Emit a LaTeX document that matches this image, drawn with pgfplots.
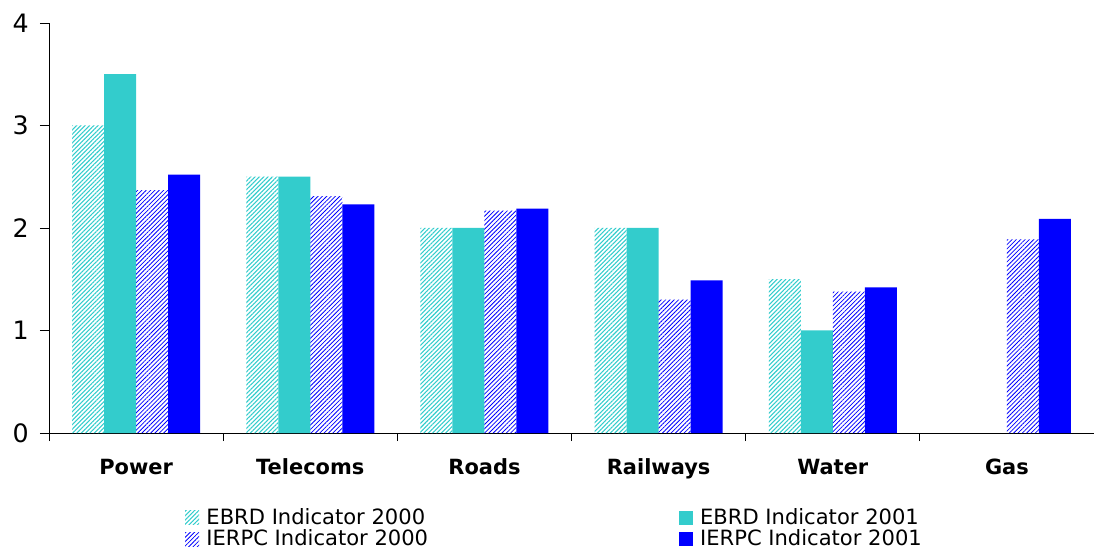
\documentclass[border=0pt]{standalone}
\usepackage{fontspec}
\setmainfont{DejaVu Sans}
\usepackage{pgfplots}
\pgfplotsset{compat=1.18}
\usetikzlibrary{patterns.meta}
\definecolor{ebrd}{RGB}{51,204,204}
\definecolor{ierpc}{RGB}{0,0,255}

\begin{document}
\begin{tikzpicture}
\path[use as bounding box] (0,0) rectangle (820.5pt,411.75pt);
\begin{axis}[
  at={(36.75pt,87pt)}, anchor=south west,
  scale only axis, width=783.75pt, height=307.5pt,
  ybar=0pt, bar width=24pt,
  xmin=-0.5, xmax=5.5, ymin=0, ymax=4,
  axis lines=left, axis line style={-, black, line width=0.7pt},
  tick align=outside,
  ytick={0,1,2,3,4},
  major tick length=6.75pt, minor tick length=6pt,
  xtick={0,...,5},
  xticklabels={Power,Telecoms,Roads,Railways,Water,Gas},
  minor xtick={-0.5,0.5,1.5,2.5,3.5,4.5},
  major x tick style={draw=none},
  minor x tick style={black, line width=0.7pt},
  ytick style={black, line width=0.7pt},
  /pgf/number format/assume math mode=true,
  yticklabel style={font=\fontsize{19}{22}\selectfont, xshift=-5pt},
  xticklabel style={font=\bfseries\fontsize{15.7}{18}\selectfont, anchor=base, yshift=-24pt},
  legend columns=2,
  legend cell align=left,
  legend image code/.code={\fill[#1] (0pt,-4.5pt) rectangle (10.5pt,6pt); \path (15pt,0pt);},
  legend style={at={(axis description cs:0.13,-0.183)}, anchor=north west,
    draw=none, fill=none, inner sep=0pt,
    font=\fontsize{15.8}{16}\selectfont,
    nodes={inner sep=1pt, text height=11pt, text depth=3pt},
    row sep=0pt,
    /tikz/every even column/.append style={column sep=187pt}},
]
\addplot[draw=none, pattern={Lines[angle=45,distance=2.3pt,line width=0.8pt]}, pattern color=ebrd]
  coordinates {(0,3.0) (1,2.5) (2,2.0) (3,2.0) (4,1.5)};
\addlegendentry{EBRD Indicator 2000}
\addplot[draw=none, fill=ebrd]
  coordinates {(0,3.5) (1,2.5) (2,2.0) (3,2.0) (4,1.0)};
\addlegendentry{EBRD Indicator 2001}
\addplot[draw=none, pattern={Lines[angle=45,distance=2.3pt,line width=0.6pt]}, pattern color=ierpc]
  coordinates {(0,2.37) (1,2.31) (2,2.17) (3,1.30) (4,1.38) (5,1.89)};
\addlegendentry{IERPC Indicator 2000}
\addplot[draw=none, fill=ierpc]
  coordinates {(0,2.52) (1,2.23) (2,2.19) (3,1.49) (4,1.42) (5,2.09)};
\addlegendentry{IERPC Indicator 2001}
\end{axis}
\end{tikzpicture}
\end{document}
